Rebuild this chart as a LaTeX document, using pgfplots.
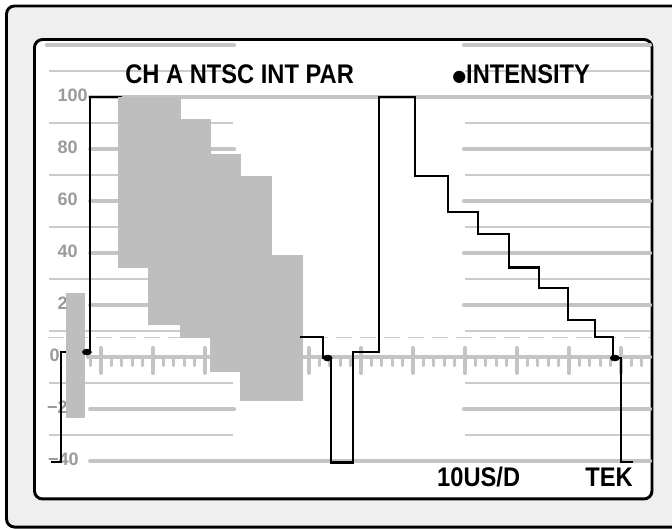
\documentclass[border=0pt]{standalone}
\usepackage{pgfplots}
\pgfplotsset{compat=1.18}
\usepackage{fontspec}
\setmainfont{Liberation Sans}
\newfontfamily\scopefont{Liberation Sans}[FakeStretch=0.88]
\newfontfamily\symfont{DejaVu Sans}

\definecolor{bezel}{HTML}{EFEFEF}
\definecolor{grat}{HTML}{C4C4C4}
\definecolor{gratthin}{HTML}{CBCBCB}
\definecolor{chroma}{HTML}{BEBEBE}
\definecolor{lbl}{HTML}{9A9A9A}

\begin{document}
\begin{tikzpicture}
\begin{axis}[
  scale only axis, width=504pt, height=396.75pt,
  xmin=-19.423, xmax=109.808, ymin=-66.154, ymax=137.308,
  hide axis,
  trace/.style={black, line width=1.75pt, no marks},
  dot/.style={only marks, mark=*, mark size=2.25pt, mark options={xscale=1.5, fill=black}},
  bar/.style={fill=chroma, draw=chroma, line width=0.3pt, no marks},
]
% frames
\draw[black, line width=2.2pt, fill=bezel, rounded corners=6pt]
  (111.7,135.0) -- (-18.17,135.0) -- (-18.17,-65.4) -- (111.7,-65.4);
\draw[black, line width=2.2pt, fill=white, rounded corners=6pt]
  (-12.79,122.1) rectangle (105.96,-54.6);

% graticule
\pgfplotsinvokeforeach{110,90,70,50,30,10,-10,-30}{
  \draw[gratthin, line width=1.1pt] (-10,#1) -- (25.4,#1) (70,#1) -- (105.6,#1);
}
\draw[grat, line width=3pt, line cap=round] (-10.4,120) -- (25.6,120) (69.8,120) -- (105.6,120);
\pgfplotsinvokeforeach{80,60,40,20,-20}{
  \draw[grat, line width=3pt, line cap=round] (-2.1,#1) -- (25.6,#1) (69.8,#1) -- (105.6,#1);
}
\draw[grat, line width=3pt, line cap=round] (-2.1,100) -- (105.6,100);
\draw[grat, line width=3pt, line cap=round] (-2.1,-40) -- (105.6,-40);
\draw[grat, line width=3pt, line cap=round] (-2.5,0) -- (105.6,0);
\draw[gratthin, line width=1.1pt, dash pattern=on 12pt off 6pt] (-10.2,7.5) -- (105.6,7.5);
\pgfplotsinvokeforeach{-2,0,...,104}{
  \draw[grat, line width=2.2pt, line cap=round] (#1,0) -- (#1,-3.3);
}
\pgfplotsinvokeforeach{0,10,...,100}{
  \draw[grat, line width=3pt, line cap=round] (#1,3.5) -- (#1,-6.2);
}

% scale labels
\begin{scope}[every node/.style={anchor=base east, text=lbl, inner sep=0pt,
    font=\bfseries\fontsize{13.5}{14}\selectfont}]
\node at (-2.5,98.2) {100};
\node at (-4.42,78.2) {80};
\node at (-4.42,58.2) {60};
\node at (-4.42,38.2) {40};
\node at (-4.42,18.2) {20};
\node at (-7.9,-1.9) {0};
\node at (-4.42,-21.8) {−20};
\node at (-4.23,-41.8) {−40};
\end{scope}

% luminance under the chroma packets
\addplot[trace] coordinates {
  (-2.7,1.9) (-2.1,1.9) (-2.1,100) (3.8,100) (3.8,67.3) (9.04,67.3)
  (9.04,56.4) (15.19,56.4) (15.19,49.6) (20.96,49.6) (20.96,36.3)
  (26.73,36.3) (26.73,26.5) (32.69,26.5) (32.69,11.3) (37.5,11.3)};

% burst and chroma packets
\addplot[bar] coordinates {(-6.73,-23.1) (-6.73,24.6) (-3.27,24.6) (-3.27,-23.1)} -- cycle;
\addplot[bar] coordinates {(3.27,34.6) (3.27,100) (9.04,100) (9.04,34.6)} -- cycle;
\addplot[bar] coordinates {(9.04,12.7) (9.04,100) (15.19,100) (15.19,12.7)} -- cycle;
\addplot[bar] coordinates {(15.19,7.7) (15.19,91.5) (20.96,91.5) (20.96,7.7)} -- cycle;
\addplot[bar] coordinates {(20.96,-5.4) (20.96,78.1) (26.73,78.1) (26.73,-5.4)} -- cycle;
\addplot[bar] coordinates {(26.73,-16.5) (26.73,69.6) (32.69,69.6) (32.69,-16.5)} -- cycle;
\addplot[bar] coordinates {(32.69,-16.5) (32.69,39.2) (38.65,39.2) (38.65,-16.5)} -- cycle;

% visible trace
\addplot[trace] coordinates {(-9.6,-40.4) (-7.7,-40.4) (-7.7,1.9) (-6.8,1.9)};
\addplot[trace] coordinates {
  (38.3,7.7) (42.7,7.7) (42.7,-0.4) (44.2,-0.4) (44.2,-40.6) (48.4,-40.6)
  (48.4,1.9) (53.5,1.9) (53.5,100) (60.4,100) (60.4,69.6) (66.7,69.6)
  (66.7,55.8) (72.5,55.8) (72.5,47.3) (78.5,47.3) (78.5,34.4) (84.2,34.4)
  (84.2,26.5) (89.8,26.5) (89.8,14.2) (95.0,14.2) (95.0,7.6) (98.5,7.6)
  (98.5,-0.4) (100,-0.4) (100,-40.4) (102.3,-40.4)};
\addplot[dot] coordinates {(-2.7,1.9) (43.6,-0.4) (98.8,-0.4)};

% readouts
\begin{scope}[every node/.style={anchor=base west, inner sep=0pt,
    font=\scopefont\bfseries\fontsize{20.2}{22}\selectfont}]
\node at (4.62,105) {CH A NTSC INT PAR};
\node at (67.5,105) {\raisebox{2pt}{\symfont\fontsize{12}{12}\selectfont ●}INTENSITY};
\node at (64.6,-50) {10US/D};
\node at (93.1,-50) {TEK};
\end{scope}

\coordinate (SW) at (rel axis cs:0,0);
\coordinate (NE) at (rel axis cs:1,1);
\end{axis}
\pgfresetboundingbox
\path[use as bounding box] (SW) rectangle (NE);
\end{tikzpicture}
\end{document}
